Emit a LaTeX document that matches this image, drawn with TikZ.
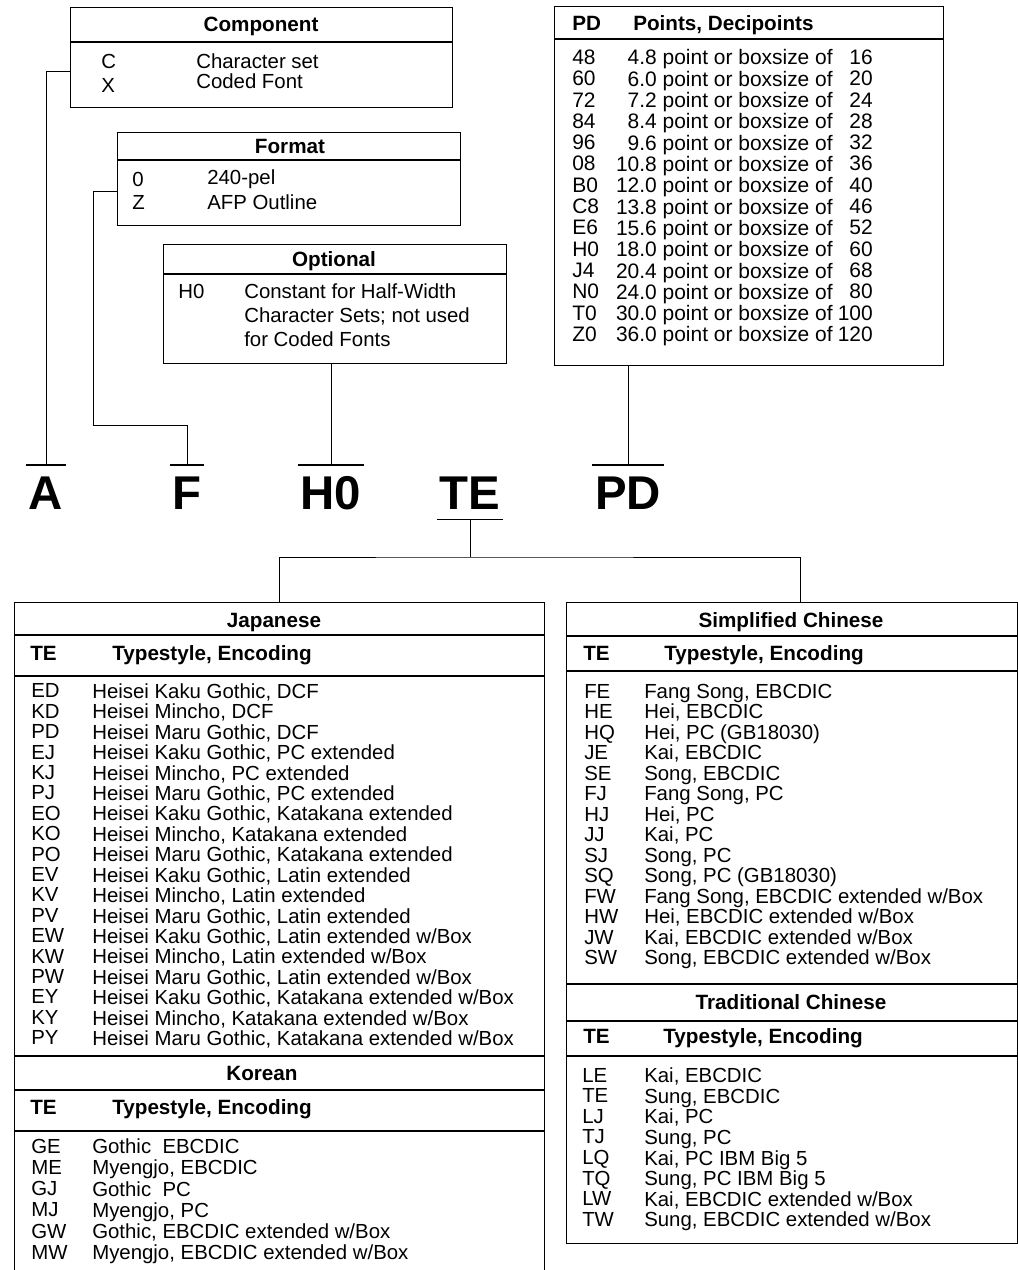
\documentclass[tikz,border=0pt]{standalone}
\usepackage{fontspec}
\setmainfont{Liberation Sans}
\usetikzlibrary{positioning, calc}
\tikzset{
    tbox/.style={rectangle, draw, line width=0.9pt, anchor=north west, inner sep=0pt},
    rule/.style={line width=0.9pt},
    link/.style={line width=0.7pt},
    head/.style={font=\bfseries\fontsize{14.7}{16}\selectfont, inner sep=0pt, anchor=base},
    colhead/.style={head, anchor=base west},
    cells/.style={font=\fontsize{14.5}{#1}\selectfont, align=left, anchor=north west, inner sep=0pt},
    pdcells/.style={cells=15.15pt, font=\fontsize{14.9}{15.15}\selectfont},
    letter/.style={font=\bfseries\fontsize{33.7}{34}\selectfont, inner xsep=0.06cm, inner ysep=0.25cm,
        text height=0.85cm, text depth=0pt, anchor=north}
}

\begin{document}
\begin{tikzpicture}[x=0.025cm, y=-0.025cm]
    \useasboundingbox (0,0) rectangle (1018,1270);
    \clip (0,0) rectangle (1018,1270);

    % parameter boxes
    \node[tbox, minimum width=9.55cm, minimum height=2.5cm] (comp) at (70,7) {};
    \draw[rule] (comp.west |- 0,42) -- (comp.east |- 0,42);
    \node[head] (compH) at (261,31) {Component};
    \node[cells=17.1pt] (compC) at (101,53.7) {C\\X};
    \node[cells=14.2pt] (compT) at (196,53.7) {Character set\\Coded Font};

    \node[tbox, minimum width=8.575cm, minimum height=2.325cm] (fmt) at (117,132) {};
    \draw[rule] (fmt.west |- 0,160) -- (fmt.east |- 0,160);
    \node[head] (fmtH) at (290,153) {Format};
    \node[cells=16.4pt] (fmtC) at (132,171.7) {0\\Z};
    \node[cells=17.8pt] (fmtT) at (207,169.7) {240-pel\\AFP Outline};

    \node[tbox, minimum width=8.575cm, minimum height=2.975cm] (opt) at (163,244) {};
    \draw[rule] (opt.west |- 0,274) -- (opt.east |- 0,274);
    \node[head] (optH) at (334,266) {Optional};
    \node[cells=17.1pt] (optC) at (178,283.7) {H0};
    \node[cells=17.1pt] (optT) at (244,283.7) {Constant for Half-Width\\Character Sets; not used\\for Coded Fonts};

    \node[tbox, minimum width=9.725cm, minimum height=8.975cm] (pd) at (554,6) {};
    \draw[rule] (pd.west |- 0,39) -- (pd.east |- 0,39);
    \node[colhead] (pdH) at (572,30) {PD};
    \node[colhead] (pdT) at (633,30) {Points, Decipoints};
    \node[pdcells] (pdC) at (572,49.5) {48\\60\\72\\84\\96\\08\\B0\\C8\\E6\\H0\\J4\\N0\\T0\\Z0};
    \node[pdcells, align=right, anchor=north east] (pdV) at (833,49.5) {4.8 point or boxsize of\\6.0 point or boxsize of\\7.2 point or boxsize of\\8.4 point or boxsize of\\9.6 point or boxsize of\\10.8 point or boxsize of\\12.0 point or boxsize of\\13.8 point or boxsize of\\15.6 point or boxsize of\\18.0 point or boxsize of\\20.4 point or boxsize of\\24.0 point or boxsize of\\30.0 point or boxsize of\\36.0 point or boxsize of};
    \node[pdcells, align=right, anchor=north east] (pdS) at (873,49.5) {16\\20\\24\\28\\32\\36\\40\\46\\52\\60\\68\\80\\100\\120};

    % name letters
    \node[letter] (lA) at (46,465) {A};
    \node[letter] (lF) at (187,465) {F};
    \node[letter] (lH0) at (331,465) {H0};
    \node[letter] (lTE) at (470,465) {TE};
    \node[letter] (lPD) at (628,465) {PD};
    \foreach \n in {lA,lF,lH0,lPD}
        \draw[rule] (\n.north west) -- (\n.north east);
    \draw[rule] (lTE.south west) -- (lTE.south east);

    % language tables
    \node[tbox, minimum width=13.25cm, minimum height=17cm] (jp) at (14,602) {};
    \foreach \yy in {635,676,1056,1090,1131}
        \draw[rule] (jp.west |- 0,\yy) -- (jp.east |- 0,\yy);
    \node[head] (jpH) at (274,627) {Japanese};
    \node[colhead] (jpTE) at (30,660) {TE};
    \node[colhead] (jpTS) at (112,660) {Typestyle, Encoding};
    \node[cells=14.51pt] (jpC) at (31,683.5) {ED\\KD\\PD\\EJ\\KJ\\PJ\\EO\\KO\\PO\\EV\\KV\\PV\\EW\\KW\\PW\\EY\\KY\\PY};
    \node[cells=14.51pt] (jpT) at (92,683.5) {Heisei Kaku Gothic, DCF\\Heisei Mincho, DCF\\Heisei Maru Gothic, DCF\\Heisei Kaku Gothic, PC extended\\Heisei Mincho, PC extended\\Heisei Maru Gothic, PC extended\\Heisei Kaku Gothic, Katakana extended\\Heisei Mincho, Katakana extended\\Heisei Maru Gothic, Katakana extended\\Heisei Kaku Gothic, Latin extended\\Heisei Mincho, Latin extended\\Heisei Maru Gothic, Latin extended\\Heisei Kaku Gothic, Latin extended w/Box\\Heisei Mincho, Latin extended w/Box\\Heisei Maru Gothic, Latin extended w/Box\\Heisei Kaku Gothic, Katakana extended w/Box\\Heisei Mincho, Katakana extended w/Box\\Heisei Maru Gothic, Katakana extended w/Box};

    \node[head] (koH) at (262,1080) {Korean};
    \node[colhead] (koTE) at (30,1114) {TE};
    \node[colhead] (koTS) at (112,1114) {Typestyle, Encoding};
    \node[cells=15.08pt] (koC) at (31,1138.7) {GE\\ME\\GJ\\MJ\\GW\\MW};
    \node[cells=15.08pt] (koT) at (92,1138.7) {Gothic~ EBCDIC\\Myengjo, EBCDIC\\Gothic~ PC\\Myengjo, PC\\Gothic, EBCDIC extended w/Box\\Myengjo, EBCDIC extended w/Box};

    \node[tbox, minimum width=11.275cm, minimum height=16.025cm] (sc) at (566,602) {};
    \foreach \yy in {636,671,984,1021,1056}
        \draw[rule] (sc.west |- 0,\yy) -- (sc.east |- 0,\yy);
    \node[head] (scH) at (791,627) {Simplified Chinese};
    \node[colhead] (scTE) at (583,660) {TE};
    \node[colhead] (scTS) at (664,660) {Typestyle, Encoding};
    \node[cells=14.58pt] (scC) at (584,683.7) {FE\\HE\\HQ\\JE\\SE\\FJ\\HJ\\JJ\\SJ\\SQ\\FW\\HW\\JW\\SW};
    \node[cells=14.58pt] (scT) at (644,683.7) {Fang Song, EBCDIC\\Hei, EBCDIC\\Hei, PC (GB18030)\\Kai, EBCDIC\\Song, EBCDIC\\Fang Song, PC\\Hei, PC\\Kai, PC\\Song, PC\\Song, PC (GB18030)\\Fang Song, EBCDIC extended w/Box\\Hei, EBCDIC extended w/Box\\Kai, EBCDIC extended w/Box\\Song, EBCDIC extended w/Box};

    \node[head] (tcH) at (791,1009) {Traditional Chinese};
    \node[colhead] (tcTE) at (583,1043) {TE};
    \node[colhead] (tcTS) at (663,1043) {Typestyle, Encoding};
    \node[cells=14.65pt] (tcC) at (582,1067.7) {LE\\TE\\LJ\\TJ\\LQ\\TQ\\LW\\TW};
    \node[cells=14.65pt] (tcT) at (644,1067.7) {Kai, EBCDIC\\Sung, EBCDIC\\Kai, PC\\Sung, PC\\Kai, PC IBM Big 5\\Sung, PC IBM Big 5\\Kai, EBCDIC extended w/Box\\Sung, EBCDIC extended w/Box};

    % connectors
    \coordinate (bendF) at (93,425);
    \coordinate (forkTE) at (lTE.south |- 0,557);
    \draw[link] ([yshift=-0.35cm]comp.west) -| (lA.north);
    \draw[link] ([yshift=-0.31cm]fmt.west) -| (bendF) -| (lF.north);
    \draw[link] (opt.south -| lH0.north) -- (lH0.north);
    \draw[link] (pd.south -| lPD.north) -- (lPD.north);
    \draw[link] (lTE.south) -- (forkTE);
    \draw[link] (jp.north) |- (forkTE) -| ([xshift=0.2cm]sc.north);

\end{tikzpicture}
\end{document}
